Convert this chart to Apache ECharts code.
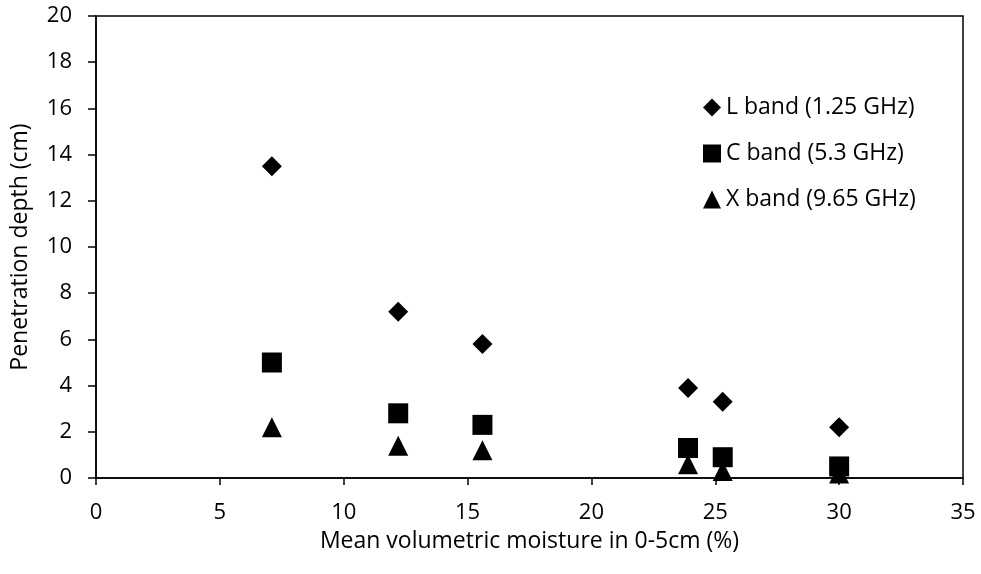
<!DOCTYPE html>
<html>
<head>
<meta charset="utf-8">
<script src="https://cdn.jsdelivr.net/npm/echarts@6/dist/echarts.min.js"></script>
<style>
html,body{margin:0;padding:0;background:#fff;}
#c{width:981px;height:574px;}
</style>
</head>
<body>
<div id="c"></div>
<script>
const moisture = [7.1, 12.2, 15.6, 23.9, 25.3, 30.0];
const lBand = [13.5, 7.2, 5.8, 3.9, 3.3, 2.2];
const cBand = [5.0, 2.8, 2.3, 1.3, 0.9, 0.5];
const xBand = [2.2, 1.4, 1.2, 0.6, 0.3, 0.2];
const seriesNames = ['L band (1.25 GHz)', 'C band (5.3 GHz)', 'X band (9.65 GHz)'];

const pairs = (ys) => moisture.map((m, i) => [m, ys[i]]);
const font = '"Open Sans", "Liberation Sans", sans-serif';

const chart = echarts.init(document.getElementById('c'));
chart.setOption({
  animation: false,
  backgroundColor: '#fff',
  textStyle: { fontFamily: font, color: '#000' },
  grid: { left: 96, right: 18, top: 16, bottom: 96, show: true, borderColor: '#000', borderWidth: 1.5 },
  legend: {
    orient: 'vertical', left: 698, top: 91, itemGap: 23, itemWidth: 18, itemHeight: 18,
    textStyle: { fontSize: 23, color: '#000', fontFamily: font },
    data: [
      { name: seriesNames[0], icon: 'diamond' },
      { name: seriesNames[1], icon: 'rect' },
      { name: seriesNames[2], icon: 'triangle' }
    ]
  },
  xAxis: {
    type: 'value', min: 0, max: 35, interval: 5,
    name: 'Mean volumetric moisture in 0-5cm (%)', nameLocation: 'middle', nameGap: 52,
    nameTextStyle: { fontSize: 23, color: '#000', fontFamily: font },
    axisLine: { lineStyle: { color: '#000', width: 1.5 } },
    axisTick: { show: true, length: 7, lineStyle: { color: '#000', width: 1.5 } },
    axisLabel: { fontSize: 22, color: '#000', margin: 24, fontFamily: font },
    splitLine: { show: false }
  },
  yAxis: {
    type: 'value', min: 0, max: 20, interval: 2,
    name: 'Penetration depth (cm)', nameLocation: 'middle', nameGap: 64,
    nameTextStyle: { fontSize: 23, color: '#000', fontFamily: font },
    axisLine: { show: true, lineStyle: { color: '#000', width: 1.5 } },
    axisTick: { show: true, length: 8, lineStyle: { color: '#000', width: 1.5 } },
    axisLabel: { fontSize: 22, color: '#000', margin: 24, fontFamily: font },
    splitLine: { show: false }
  },
  series: [
    { name: seriesNames[0], type: 'scatter', symbol: 'diamond', symbolSize: 20, itemStyle: { color: '#000', opacity: 1 }, data: pairs(lBand) },
    { name: seriesNames[1], type: 'scatter', symbol: 'rect', symbolSize: 20, itemStyle: { color: '#000', opacity: 1 }, data: pairs(cBand) },
    { name: seriesNames[2], type: 'scatter', symbol: 'triangle', symbolSize: 20, itemStyle: { color: '#000', opacity: 1 }, data: pairs(xBand) }
  ]
});
</script>
</body>
</html>
